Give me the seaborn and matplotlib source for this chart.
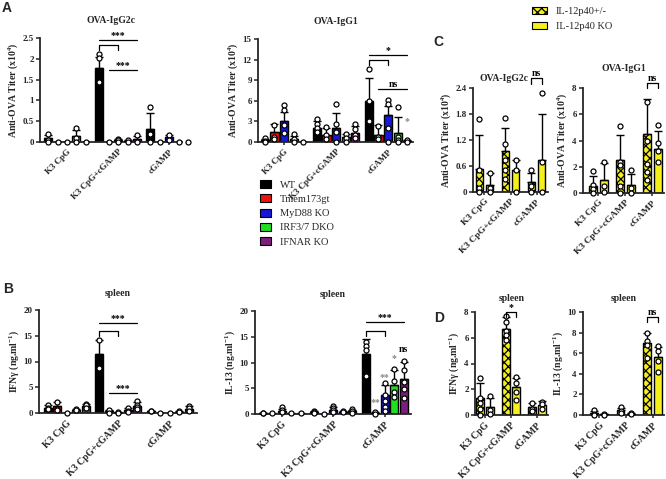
import numpy as np
import pandas as pd
import matplotlib.pyplot as plt
import seaborn as sns
from matplotlib.patches import Patch
from matplotlib.ticker import FormatStrFormatter

groups = ['K3 CpG', 'K3 CpG+cGAMP', 'cGAMP']
mice = ['WT', 'Tmem173gt', 'MyD88 KO', 'IRF3/7 DKO', 'IFNAR KO']
mice_colors = ['#000000', '#ee1111', '#1818d8', '#22dd22', '#7a1f7a']
il12 = ['IL-12p40+/-', 'IL-12p40 KO']
il12_colors = ['#f5ef1c', '#f5ef1c']

# one row per group, one entry per genotype: bar height, SD (drawn upwards), single mice
a_g2c_mean = [[0.10, 0.0, 0.0, 0.15, 0.0], [1.78, 0.0, 0.05, 0.03, 0.07], [0.32, 0.0, 0.12, 0.0, 0.0]]
a_g2c_sd = [[0.08, 0, 0, 0.15, 0], [0.27, 0, 0.03, 0.03, 0.08], [0.38, 0, 0.06, 0, 0]]
a_g2c_pts = [[[0.2, 0.06, 0.0], [0.0], [0.0], [0.33, 0.1, 0.0], [0.0]],
             [[2.12, 2.02, 1.45], [0.0], [0.08, 0.04, 0.0], [0.05, 0.0], [0.17, 0.0]],
             [[0.85, 0.2, 0.0], [0.0], [0.18, 0.06], [0.0], [0.0]]]

a_g1_mean = [[0.3, 1.4, 3.0, 0.5, 0.0], [2.1, 1.0, 2.0, 0.8, 1.3], [5.9, 1.0, 3.9, 1.3, 0.2]]
a_g1_sd = [[0.2, 1.2, 1.4, 0.4, 0], [0.9, 1.1, 2.2, 0.4, 1.0], [3.4, 1.5, 1.4, 2.3, 0.1]]
a_g1_pts = [[[0.6, 0.2, 0.0], [2.5, 0.8, 0.5], [5.4, 4.6, 2.5, 1.3], [1.1, 0.5, 0.0], [0.0]],
            [[3.3, 2.6, 2.0, 1.5], [2.2, 1.0, 0.5], [5.5, 2.6, 1.5, 0.0], [1.2, 0.6, 0.0], [2.6, 1.9, 1.0, 0.6]],
            [[10.6, 6.0, 3.1], [2.3, 0.8, 0.5], [6.1, 5.5, 2.1, 0.0], [5.1, 0.8, 0.3, 0.0], [0.3, 0.0]]]

b_ifn_mean = [[1.0, 1.3, 0.0, 0.6, 1.3], [11.4, 0.3, 0.0, 0.5, 1.4], [0.3, 0.0, 0.0, 0.2, 0.7]]
b_ifn_sd = [[0.5, 0.9, 0, 0.2, 0.5], [2.8, 0.3, 0.1, 0.4, 0.8], [0.1, 0, 0, 0.1, 0.6]]
b_ifn_pts = [[[1.6, 1.0, 0.7], [2.2, 0.8, 0.5], [0.0], [0.8, 0.5], [1.8, 1.5, 0.9]],
             [[14.1, 8.7], [0.6, 0.0], [0.2, 0.0], [1.0, 0.4, 0.2], [2.3, 1.6, 1.1, 0.8]],
             [[0.4, 0.3], [0.0], [0.0], [0.3, 0.1], [1.4, 0.9, 0.4]]]

b_il13_mean = [[0.1, 0.1, 0.6, 0.2, 0.2], [0.3, 0.0, 0.8, 0.4, 0.5], [11.6, 0.2, 3.6, 5.7, 6.8]]
b_il13_sd = [[0.1, 0, 0.4, 0, 0], [0.2, 0, 0.5, 0.2, 0.3], [2.9, 0.1, 2.1, 2.9, 3.3]]
b_il13_pts = [[[0.2, 0.1], [0.1], [1.3, 0.8, 0.4], [0.2], [0.2]],
              [[0.6, 0.4, 0.2], [0.0], [1.5, 1.1, 0.7, 0.3], [0.6, 0.3], [0.9, 0.5, 0.2]],
              [[14.0, 13.2, 12.5, 7.3], [0.3, 0.0], [6.0, 3.6, 2.6, 1.4, 0.5], [8.8, 6.5, 4.2, 3.3], [10.3, 8.6, 6.2, 4.8, 3.2]]]

c_g2c_mean = [[0.52, 0.17], [0.95, 0.5], [0.23, 0.74]]
c_g2c_sd = [[0.8, 0.27], [0.53, 0.25], [0.2, 1.06]]
c_g2c_pts = [[[1.68, 0.5, 0.1, 0.0], [0.45, 0.1, 0.0]],
             [[1.7, 1.1, 0.75, 0.5, 0.3], [0.75, 0.5, 0.0]],
             [[0.5, 0.15, 0.0], [2.28, 0.7, 0.0]]]

c_g1_mean = [[0.56, 1.0], [2.5, 0.63], [4.5, 3.35]]
c_g1_sd = [[0.76, 1.3], [1.95, 0.8], [2.7, 1.35]]
c_g1_pts = [[[1.7, 0.6, 0.3, 0.0], [2.39, 0.5, 0.1]],
            [[5.08, 2.4, 2.1, 0.5, 0.0], [1.73, 0.4, 0.0]],
            [[6.95, 4.0, 2.2, 1.6, 1.0], [5.2, 3.8, 3.2, 2.4]]]

d_ifn_mean = [[1.3, 0.65], [6.65, 2.2], [0.62, 0.75]]
d_ifn_sd = [[1.2, 0.7], [1.0, 0.7], [0.3, 0.3]]
d_ifn_pts = [[[2.9, 1.3, 0.9, 0.5, 0.0], [1.47, 0.4, 0.1]],
             [[7.7, 7.2, 6.5, 6.2, 5.8], [2.97, 2.5, 1.8, 1.2]],
             [[0.9, 0.5, 0.3], [1.03, 0.85, 0.5]]]

d_il13_mean = [[0.2, 0.05], [0.45, 0.1], [7.0, 5.6]]
d_il13_sd = [[0.2, 0.05], [0.25, 0.05], [1.0, 1.0]]
d_il13_pts = [[[0.45, 0.1, 0.0], [0.1, 0.0]],
              [[0.75, 0.4, 0.2], [0.15, 0.1]],
              [[8.0, 7.2, 6.8, 5.5], [6.7, 6.2, 5.2, 4.2]]]

sns.set_style('ticks')
plt.rcParams['font.family'] = ['Liberation Serif', 'DejaVu Serif']
plt.rcParams['mathtext.default'] = 'regular'
plt.rcParams['hatch.linewidth'] = 0.9
W, H = 666, 479
FS = 7

fig = plt.figure(figsize=(W / 100, H / 100), dpi=100)


def px_axes(x0, x1, ytop, ybot):
    return fig.add_axes([x0 / W, 1 - ybot / H, (x1 - x0) / W, (ybot - ytop) / H])


def panel(ax, means, sds, pts, hues, colors, width, gap, ylim, step, xlim, title, ylabel, tpad,
          hatch=False, tx=0.5, xfs=FS):
    rows = []
    for g, grp in enumerate(groups):
        for h, name in enumerate(hues):
            rows.append({'group': grp, 'geno': name, 'mean': means[g][h]})
    df = pd.DataFrame(rows)
    sns.barplot(data=df, x='group', y='mean', hue='geno', order=groups, hue_order=hues,
                palette=dict(zip(hues, colors)), errorbar=None, width=width, gap=gap,
                edgecolor='black', linewidth=1, saturation=1, legend=False, ax=ax)
    bars = sorted(ax.patches, key=lambda p: p.get_x())
    nh = len(hues)
    cx = [[bars[g * nh + h].get_x() + bars[g * nh + h].get_width() / 2 for h in range(nh)]
          for g in range(len(groups))]
    if hatch:
        for g in range(len(groups)):
            bars[g * nh].set_hatch('xxxx')
    for g in range(len(groups)):
        for h in range(nh):
            if sds[g][h] > 0:
                ax.errorbar(cx[g][h], means[g][h], yerr=[[0], [sds[g][h]]], fmt='none',
                            ecolor='black', elinewidth=1, capsize=3, capthick=1, zorder=4)
            v = pts[g][h]
            ax.scatter([cx[g][h]] * len(v), v, s=13, facecolor='white', edgecolor='black',
                       linewidth=0.9, zorder=5, clip_on=False)
    ax.set_xlim(*xlim)
    ax.set_ylim(0, ylim)
    ax.set_yticks(np.arange(0, ylim + step / 2, step))
    ax.yaxis.set_major_formatter(FormatStrFormatter('%g'))
    ax.set_xlabel('')
    ax.set_ylabel(ylabel, fontsize=FS, fontweight='bold', labelpad=2)
    ax.set_title(title, fontsize=FS, fontweight='bold', pad=tpad, x=tx)
    ax.set_xticks(range(len(groups)))
    ax.set_xticklabels(groups, rotation=45, ha='right', rotation_mode='anchor',
                       fontsize=xfs, fontweight='bold')
    for lab in ax.get_yticklabels():
        lab.set_fontweight('bold')
        lab.set_fontsize(FS - 0.5)
    ax.tick_params(axis='y', length=3, width=1.1, pad=1.5)
    ax.tick_params(axis='x', length=2, width=1.1, pad=2)
    sns.despine(ax=ax)
    for s in ['left', 'bottom']:
        ax.spines[s].set_linewidth(1.3)
    return cx


def sig(ax, x1, x2, y, text=None, tick=0.0, color='black'):
    ax.plot([x1, x1, x2, x2], [y - tick, y, y, y - tick], color=color, lw=0.9,
            clip_on=False, zorder=6)
    if text:
        ax.text((x1 + x2) / 2, y, text, ha='center', va='bottom', fontsize=FS,
                fontweight='bold', color=color)


def star(ax, x, y, text, color='#8a8a8a'):
    ax.text(x, y, text, ha='center', va='center', fontsize=FS, fontweight='bold', color=color)


ylab_ova = 'Anti-OVA Titer (x10$^4$)'
ylab_ifn = 'IFNγ (ng.ml$^{-1}$)'
ylab_il13 = 'IL-13 (ng.ml$^{-1}$)'

# A
ax = px_axes(40, 182, 38, 142)
cx = panel(ax, a_g2c_mean, a_g2c_sd, a_g2c_pts, mice, mice_colors, 0.92, 0.15, 2.5, 0.5,
           (-0.53, 2.25), 'OVA-IgG2c', ylab_ova, 11, xfs=6.4)
sig(ax, cx[1][0], cx[1][4], 2.44, '***')
sig(ax, cx[1][0], cx[1][2], 2.34, tick=0.12)
sig(ax, cx[1][1], cx[1][4], 1.72, '***')

ax = px_axes(258, 413, 39, 142)
cx = panel(ax, a_g1_mean, a_g1_sd, a_g1_pts, mice, mice_colors, 0.92, 0.15, 15, 3,
           (-0.5, 2.48), 'OVA-IgG1', ylab_ova, 11, xfs=6.4)
sig(ax, cx[2][0], cx[2][4], 12.7, '*')
sig(ax, cx[2][0], cx[2][2], 11.9, tick=0.7)
sig(ax, cx[2][1], cx[2][4], 7.7, 'ns')
star(ax, cx[2][4], 3.0, '*')

# B
ax = px_axes(39, 197, 310, 413)
cx = panel(ax, b_ifn_mean, b_ifn_sd, b_ifn_pts, mice, mice_colors, 0.92, 0.15, 20, 5,
           (-0.54, 2.53), 'spleen', ylab_ifn, 10)
sig(ax, cx[1][0], cx[1][4], 17.4, '***')
sig(ax, cx[1][0], cx[1][2], 16.0, tick=1.0)
sig(ax, cx[1][1], cx[1][4], 3.9, '***')

ax = px_axes(255, 411, 311, 414)
cx = panel(ax, b_il13_mean, b_il13_sd, b_il13_pts, mice, mice_colors, 0.92, 0.15, 20, 5,
           (-0.52, 2.51), 'spleen', ylab_il13, 10)
sig(ax, cx[2][0], cx[2][4], 17.9, '***')
sig(ax, cx[2][0], cx[2][2], 16.1, tick=1.0)
star(ax, cx[2][1], 2.2, '**')
star(ax, cx[2][2], 7.0, '**')
star(ax, cx[2][3], 10.8, '*')
star(ax, cx[2][4], 12.6, 'ns', color='black')

# C
ax = px_axes(473, 548, 88, 192)
cx = panel(ax, c_g2c_mean, c_g2c_sd, c_g2c_pts, il12, il12_colors, 0.78, 0.25, 2.4, 0.6,
           (-0.44, 2.44), 'OVA-IgG2c', ylab_ova, 5, hatch=True, tx=0.42, xfs=6.8)
sig(ax, cx[2][0], cx[2][1], 2.62, 'ns', tick=0.12)

ax = px_axes(583, 664, 88, 193)
cx = panel(ax, c_g1_mean, c_g1_sd, c_g1_pts, il12, il12_colors, 0.78, 0.25, 8, 2,
           (-0.57, 2.43), 'OVA-IgG1', ylab_ova, 12, hatch=True, xfs=6.8)
sig(ax, cx[2][0], cx[2][1], 8.4, 'ns', tick=0.4)

# D
ax = px_axes(475, 548, 312, 415)
cx = panel(ax, d_ifn_mean, d_ifn_sd, d_ifn_pts, il12, il12_colors, 0.78, 0.25, 8, 2,
           (-0.38, 2.42), 'spleen', ylab_ifn, 8, hatch=True)
sig(ax, cx[1][0], cx[1][1], 8.0, '*', tick=0.4)

ax = px_axes(583, 664, 312, 415)
cx = panel(ax, d_il13_mean, d_il13_sd, d_il13_pts, il12, il12_colors, 0.78, 0.25, 10, 2,
           (-0.6, 2.43), 'spleen', ylab_il13, 8, hatch=True)
sig(ax, cx[2][0], cx[2][1], 9.5, 'ns', tick=0.5)

# legends
h1 = [Patch(facecolor=c, edgecolor='black', linewidth=0.8) for c in mice_colors]
fig.legend(h1, mice, loc='upper left', bbox_to_anchor=(260 / W, 1 - 180 / H), frameon=False,
           fontsize=7.5, handlelength=1.1, handleheight=0.8, handletextpad=0.8,
           labelspacing=0.45, borderpad=0, borderaxespad=0)
h2 = [Patch(facecolor=il12_colors[0], edgecolor='black', hatch='xxxx', linewidth=0.8),
      Patch(facecolor=il12_colors[1], edgecolor='black', linewidth=0.8)]
fig.legend(h2, il12, loc='upper left', bbox_to_anchor=(532 / W, 1 - 7 / H), frameon=False,
           fontsize=7.5, handlelength=1.4, handleheight=0.7, handletextpad=0.9,
           labelspacing=0.5, borderpad=0, borderaxespad=0)

# panel letters
for lab, x, y in [('A', 2, 8), ('B', 3, 289), ('C', 433, 42), ('D', 434, 318)]:
    fig.text(x / W, 1 - y / H, lab, fontsize=10, fontweight='bold', family='Liberation Sans',
             va='center', ha='left')

fig.savefig('out.png', dpi=100)
